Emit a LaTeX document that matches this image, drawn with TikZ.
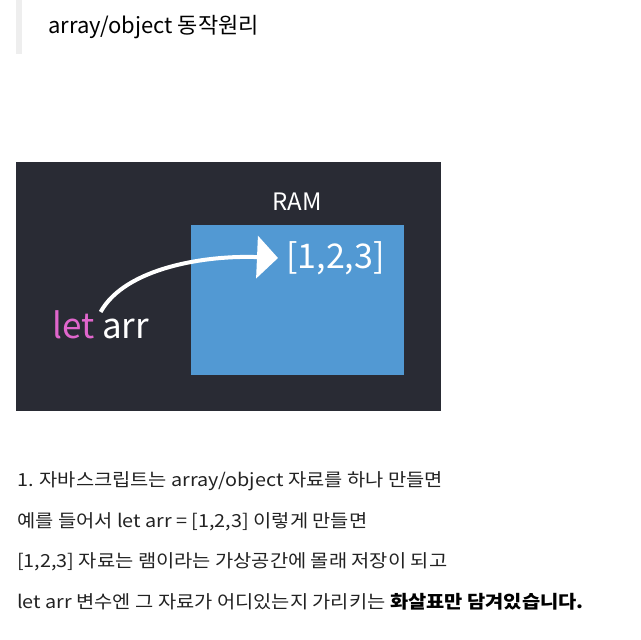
\documentclass[tikz,border=0pt]{standalone}
\usepackage{fontspec}
\setmainfont{Noto Sans CJK KR}
\newfontfamily\bodyfont[FakeStretch=1.1]{Noto Sans CJK KR}
\usepackage{xcolor}
\usetikzlibrary{arrows.meta,positioning}
\definecolor{cPanel}{HTML}{292B34}
\definecolor{cRam}{HTML}{5299D3}
\definecolor{cPink}{HTML}{E066CC}
\definecolor{cBar}{HTML}{EEEEEE}
\definecolor{cText}{HTML}{222222}
\tikzset{
  ptxt/.style={text=white,inner sep=0pt},
  body/.style={anchor=base west,inner sep=0pt,text=cText,font=\bodyfont\fontsize{18}{20}\selectfont},
  ptr/.style={-{Triangle[length=21pt,width=42pt]},line width=4pt,white},
}
\begin{document}
\begin{tikzpicture}[x=1pt,y=-1pt]
        \useasboundingbox (0,0) rectangle (641,640);
        % quote header
        \fill[cBar] (16,0) rectangle (22,54);
        \node[anchor=base west,inner sep=0pt,font=\fontsize{22}{26}\selectfont] (title) at (48,33) {array/object 동작원리};
        % picture panel
        \fill[cPanel] (16,162) rectangle (441,411);
        \fill[cRam] (191,225) rectangle (404,375);
        \node[ptxt,font=\fontsize{24}{28}\selectfont] (ram) at (297,202) {RAM};
        \node[ptxt,font=\fontsize{34}{38}\selectfont,anchor=west] (list) at (286,258) {[1,2,3]};
        \node[ptxt,font=\fontsize{35}{38}\selectfont,anchor=base west] (letarr) at (52,338) {\textcolor{cPink}{let} arr};
        \draw[ptr] ([yshift=-2pt]letarr.north) .. controls +(25,-45) and +(-70,-3) .. ([xshift=-8pt]list.west);
        % explanation lines
        \node[body] (l1) at (17,486) {1. 자바스크립트는 array/object 자료를 하나 만들면};
        \node[body] (l2) at (17,527) {예를 들어서 let arr = [1,2,3] 이렇게 만들면};
        \node[body] (l3) at (17,567) {[1,2,3] 자료는 램이라는 가상공간에 몰래 저장이 되고};
        \node[body] (l4) at (17,608) {let arr 변수엔 그 자료가 어디있는지 가리키는 \textcolor{black}{\bfseries 화살표만 담겨있습니다.}};
      \end{tikzpicture}
\end{document}
